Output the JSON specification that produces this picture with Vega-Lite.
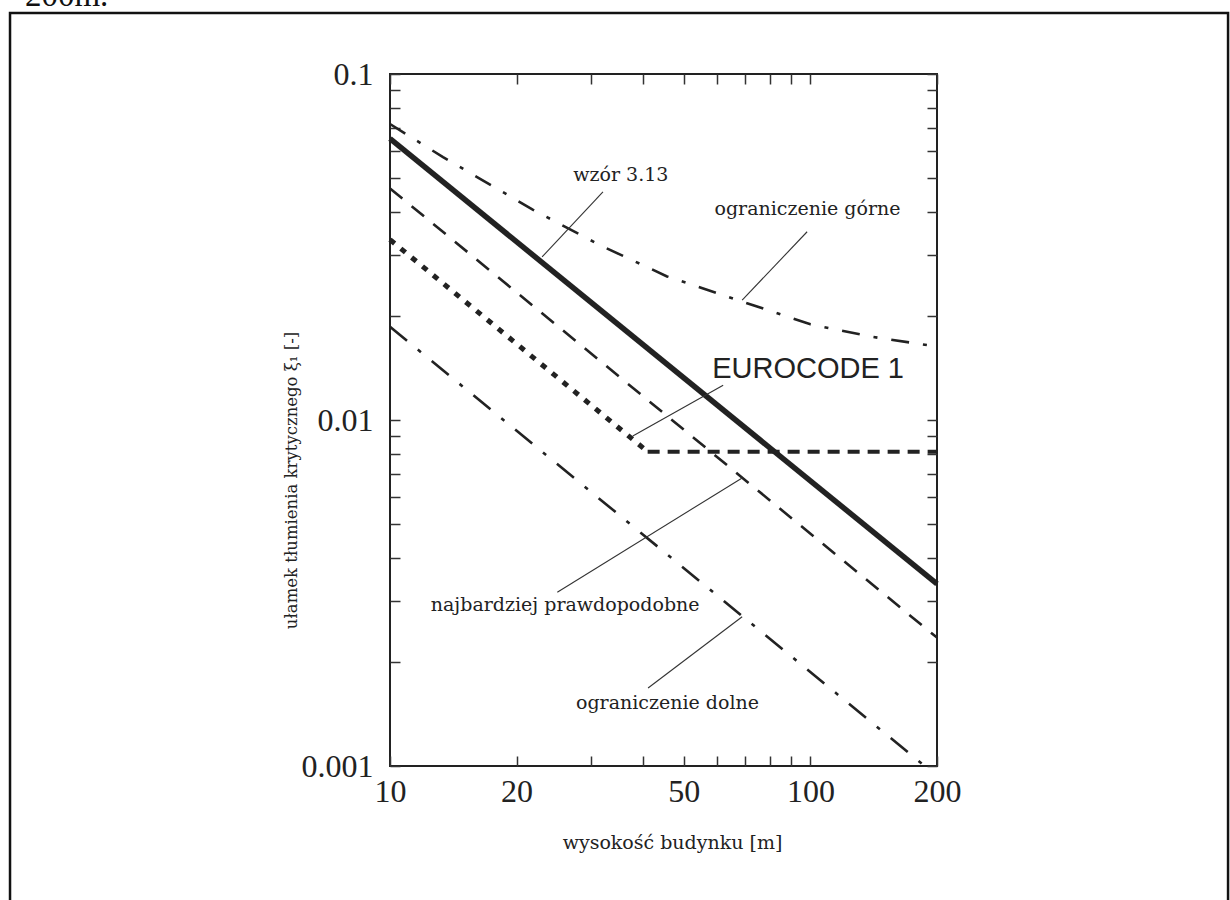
{
  "$schema": "https://vega.github.io/schema/vega-lite/v6.json",
  "width": 547,
  "height": 692,
  "autosize": {"type": "none"},
  "padding": {"left": 390, "top": 74, "right": 293, "bottom": 134},
  "background": "white",
  "config": {
    "view": {"stroke": "#222", "strokeWidth": 2},
    "axis": {
      "grid": false,
      "domain": false,
      "ticks": true,
      "tickColor": "#333",
      "tickWidth": 1.5,
      "tickSize": -10,
      "labelFont": "Liberation Serif",
      "labelFontSize": 32,
      "labelColor": "#222",
      "labelFlush": false,
      "labelOverlap": false,
      "titleFont": "DejaVu Serif",
      "titleFontWeight": "normal",
      "titleColor": "#222"
    },
    "line": {"color": "#222", "strokeCap": "butt"},
    "text": {"font": "DejaVu Serif", "fontSize": 19, "color": "#222"}
  },
  "datasets": {
    "curves": [
      {"series": "upper", "h": 10, "v": 0.0717},
      {"series": "upper", "h": 13.37, "v": 0.0575},
      {"series": "upper", "h": 21.9, "v": 0.0405},
      {"series": "upper", "h": 31.6, "v": 0.032},
      {"series": "upper", "h": 45.6, "v": 0.026},
      {"series": "upper", "h": 68, "v": 0.0221},
      {"series": "upper", "h": 100, "v": 0.0189},
      {"series": "upper", "h": 140, "v": 0.0174},
      {"series": "upper", "h": 200, "v": 0.0163},
      {"series": "formula", "h": 10, "v": 0.065},
      {"series": "formula", "h": 200, "v": 0.00336},
      {"series": "likely", "h": 10, "v": 0.0467},
      {"series": "likely", "h": 200, "v": 0.00235},
      {"series": "eurocode_slope", "h": 10, "v": 0.0332},
      {"series": "eurocode_slope", "h": 41, "v": 0.0081},
      {"series": "eurocode_flat", "h": 41, "v": 0.0081},
      {"series": "eurocode_flat", "h": 200, "v": 0.0081},
      {"series": "lower", "h": 10, "v": 0.0186},
      {"series": "lower", "h": 187, "v": 0.001}
    ],
    "pointers": [
      {"target": "formula", "h": 32.1, "v": 0.0456, "h2": 23.0, "v2": 0.0296},
      {"target": "upper", "h": 98.2, "v": 0.035, "h2": 68.8, "v2": 0.0222},
      {"target": "eurocode", "h": 62.0, "v": 0.0126, "h2": 37.8, "v2": 0.00899},
      {"target": "likely", "h": 25.0, "v": 0.00318, "h2": 68.8, "v2": 0.0068},
      {"target": "lower", "h": 41.1, "v": 0.00168, "h2": 68.8, "v2": 0.0027}
    ],
    "notes": [
      {"label": "wzór 3.13", "h": 35.4, "v": 0.0511},
      {"label": "ograniczenie górne", "h": 98.4, "v": 0.0407},
      {"label": "najbardziej prawdopodobne", "h": 26.1, "v": 0.00292},
      {"label": "ograniczenie dolne", "h": 45.7, "v": 0.00152}
    ],
    "standard": [
      {"label": "EUROCODE 1", "h": 98.7, "v": 0.01404}
    ]
  },
  "layer": [
    {
      "data": {"values": [{}]},
      "mark": {"type": "rect", "fillOpacity": 0, "stroke": "#111", "strokeWidth": 2.5, "clip": false},
      "encoding": {
        "x": {"datum": 1.248, "type": "quantitative", "axis": null},
        "x2": {"datum": 984.7},
        "y": {"datum": 0.1501, "type": "quantitative", "axis": null},
        "y2": {"datum": 0.000359}
      }
    },
    {
      "data": {"values": [{}]},
      "mark": {"type": "text", "text": "200m.", "font": "Liberation Serif", "fontSize": 33, "align": "left", "baseline": "alphabetic", "color": "#111", "clip": false},
      "encoding": {
        "x": {"datum": 1.354, "type": "quantitative", "axis": null},
        "y": {"datum": 0.1572, "type": "quantitative", "axis": null}
      }
    },
    {
      "mark": {"type": "rule", "color": "#888", "strokeWidth": 1, "strokeDash": [4, 5]},
      "encoding": {"y": {"datum": 0.01, "type": "quantitative", "axis": null}}
    },
    {
      "mark": {"type": "rule", "color": "#444", "strokeWidth": 1.5, "strokeDash": [3, 6]},
      "encoding": {"x": {"datum": 100, "type": "quantitative", "axis": null}}
    },
    {
      "data": {"name": "curves"},
      "transform": [{"filter": "datum.series == 'upper'"}],
      "mark": {"type": "line", "strokeWidth": 2.6, "strokeDash": [18, 14, 4, 14]},
      "encoding": {
        "x": {
          "field": "h", "type": "quantitative",
          "scale": {"type": "log", "domain": [10, 200], "nice": false},
          "axis": {
            "orient": "bottom",
            "values": [10, 20, 30, 40, 50, 60, 70, 80, 90, 100, 200],
            "labelExpr": "datum.value == 10 || datum.value == 20 || datum.value == 50 || datum.value == 100 || datum.value == 200 ? '' + datum.value : ''",
            "labelPadding": 20,
            "title": "wysokość budynku [m]",
            "titleFontSize": 19,
            "titlePadding": 26,
            "titleX": 282
          }
        },
        "y": {
          "field": "v", "type": "quantitative",
          "scale": {"type": "log", "domain": [0.001, 0.1], "nice": false},
          "axis": {
            "orient": "left",
            "values": [0.001, 0.002, 0.003, 0.004, 0.005, 0.006, 0.007, 0.008, 0.009, 0.01, 0.02, 0.03, 0.04, 0.05, 0.06, 0.07, 0.08, 0.09, 0.1],
            "labelExpr": "datum.value == 0.1 ? '0.1' : datum.value == 0.01 ? '0.01' : datum.value == 0.001 ? '0.001' : ''",
            "labelPadding": 27,
            "title": "ułamek tłumienia krytycznego ξ₁ [-]",
            "titleFontSize": 16.5,
            "titlePadding": 2,
            "titleY": 406
          }
        }
      }
    },
    {
      "data": {"name": "curves"},
      "transform": [{"filter": "datum.series == 'formula'"}],
      "mark": {"type": "line", "strokeWidth": 5.5},
      "encoding": {
        "x": {
          "field": "h", "type": "quantitative",
          "axis": {
            "orient": "top",
            "values": [10, 20, 30, 40, 50, 60, 70, 80, 90, 100, 200],
            "labels": false,
            "title": null
          }
        },
        "y": {
          "field": "v", "type": "quantitative",
          "axis": {
            "orient": "right",
            "values": [0.001, 0.002, 0.003, 0.004, 0.005, 0.006, 0.007, 0.008, 0.009, 0.01, 0.02, 0.03, 0.04, 0.05, 0.06, 0.07, 0.08, 0.09, 0.1],
            "labels": false,
            "title": null
          }
        }
      }
    },
    {
      "data": {"name": "curves"},
      "transform": [{"filter": "datum.series == 'likely'"}],
      "mark": {"type": "line", "strokeWidth": 2.6, "strokeDash": [16, 12]},
      "encoding": {
        "x": {"field": "h", "type": "quantitative", "axis": null},
        "y": {"field": "v", "type": "quantitative", "axis": null}
      }
    },
    {
      "data": {"name": "curves"},
      "transform": [{"filter": "datum.series == 'eurocode_slope'"}],
      "mark": {"type": "line", "strokeWidth": 5, "strokeDash": [6, 8]},
      "encoding": {
        "x": {"field": "h", "type": "quantitative", "axis": null},
        "y": {"field": "v", "type": "quantitative", "axis": null}
      }
    },
    {
      "data": {"name": "curves"},
      "transform": [{"filter": "datum.series == 'eurocode_flat'"}],
      "mark": {"type": "line", "strokeWidth": 4, "strokeDash": [12, 8]},
      "encoding": {
        "x": {"field": "h", "type": "quantitative", "axis": null},
        "y": {"field": "v", "type": "quantitative", "axis": null}
      }
    },
    {
      "data": {"name": "curves"},
      "transform": [{"filter": "datum.series == 'lower'"}],
      "mark": {"type": "line", "strokeWidth": 2.6, "strokeDash": [22, 14, 4, 14]},
      "encoding": {
        "x": {"field": "h", "type": "quantitative", "axis": null},
        "y": {"field": "v", "type": "quantitative", "axis": null}
      }
    },
    {
      "data": {"name": "pointers"},
      "mark": {"type": "rule", "color": "#333", "strokeWidth": 1.1},
      "encoding": {
        "x": {"field": "h", "type": "quantitative", "axis": null},
        "y": {"field": "v", "type": "quantitative", "axis": null},
        "x2": {"field": "h2"},
        "y2": {"field": "v2"}
      }
    },
    {
      "data": {"name": "notes"},
      "mark": {"type": "text", "align": "center", "baseline": "middle"},
      "encoding": {
        "x": {"field": "h", "type": "quantitative", "axis": null},
        "y": {"field": "v", "type": "quantitative", "axis": null},
        "text": {"field": "label"}
      }
    },
    {
      "data": {"name": "standard"},
      "mark": {"type": "text", "align": "center", "baseline": "middle", "font": "Liberation Sans", "fontSize": 29},
      "encoding": {
        "x": {"field": "h", "type": "quantitative", "axis": null},
        "y": {"field": "v", "type": "quantitative", "axis": null},
        "text": {"field": "label"}
      }
    }
  ],
  "resolve": {"axis": {"x": "independent", "y": "independent"}}
}
